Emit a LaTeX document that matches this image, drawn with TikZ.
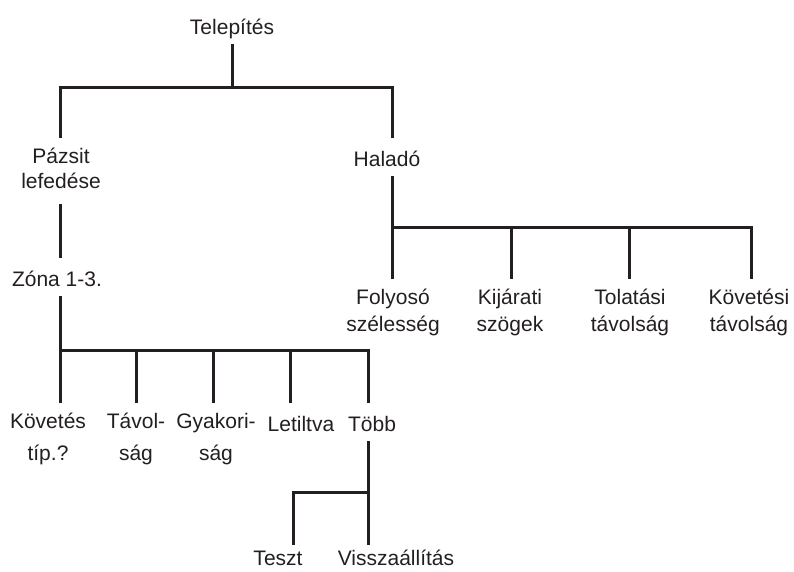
\documentclass[tikz,border=0pt]{standalone}
\usepackage{fontspec}
\setmainfont{Liberation Sans}
\definecolor{tinta}{HTML}{231F20}

\begin{document}
\begin{tikzpicture}[
    x=1pt, y=-1pt,
    cimke/.style={font=\fontsize{21}{25}\selectfont, text=tinta, align=center,
                  anchor=north, inner sep=0pt,
                  execute at begin node={\rule{0pt}{18pt}},
                  execute at end node={\rule[-5pt]{0pt}{5pt}}},
    vonal/.style={draw=tinta, line width=3pt},
    le/.style={vonal, shorten >=10pt},
    ki/.style={vonal, shorten <=5pt},
    ag/.style={vonal, shorten <=10pt, shorten >=10pt}
  ]
  \useasboundingbox (0,0) rectangle (794,571);

  % csomopontok
  \node[cimke] (tel) at (232,16) {Telepítés};
  \node[cimke] (pazsit) at (61,148) {Pázsit\\lefedése};
  \node[cimke] (halado) at (387,148) {Haladó};
  \node[cimke] (zona) at (57,268) {Zóna 1-3.};

  \node[cimke] (kovetes) at (48,413) {Követés\\[7pt]típ.?};
  \node[cimke] (tavolsag) at (136,413) {Távol-\\[7pt]ság};
  \node[cimke] (gyakorisag) at (216,413) {Gyakori-\\[7pt]ság};
  \node[cimke] (letiltva) at (301,413) {Letiltva};
  \node[cimke] (tobb) at (372,413) {Több};

  \node[cimke, execute at end node={}] (teszt) at (278,547) {Teszt};
  \node[cimke, execute at end node={}] (vissza) at (396,547) {Visszaállítás};

  \node[cimke] (folyoso) at (393,289) {Folyosó\\[2pt]szélesség};
  \node[cimke] (kijarati) at (510,289) {Kijárati\\[2pt]szögek};
  \node[cimke] (tolatasi) at (630,289) {Tolatási\\[2pt]távolság};
  \node[cimke] (kovetesi) at (749,289) {Követési\\[2pt]távolság};

  % elagazasok
  \coordinate (b0l) at (60,87);
  \coordinate (b0r) at (392,87);
  \coordinate (b1l) at (392,227);
  \coordinate (b1r) at (751,227);
  \coordinate (b2l) at (60,350);
  \coordinate (b2r) at (368,350);
  \coordinate (b3l) at (293,492);
  \coordinate (b3r) at (368,492);

  \draw[ki] (tel) -- (tel |- b0l);
  \draw[ag] (b0l |- pazsit.north) -- (b0l) -- (b0r) -- (b0r |- halado.north);

  \draw[ag] (pazsit.south -| b0l) -- (b0l |- zona.north);

  \draw[ki] (zona.south -| b2l) -- (b2l);
  \draw[ag] (b2l |- kovetes.north) -- (b2l) -- (b2r) -- (b2r |- tobb.north);
  \foreach \x/\n in {136/tavolsag, 213/gyakorisag, 290/letiltva}
    \draw[le] (\x,350) -- (\x,350 |- \n.north);

  \draw[ki] (halado.south -| b1l) -- (b1l);
  \draw[ag] (b1l |- folyoso.north) -- (b1l) -- (b1r) -- (b1r |- kovetesi.north);
  \foreach \x/\n in {511/kijarati, 629/tolatasi}
    \draw[le] (\x,227) -- (\x,227 |- \n.north);

  \draw[ki, shorten >=2pt] (tobb.south -| b3r) -- (b3r |- vissza.north);
  \draw[vonal, shorten <=2pt] (b3l |- teszt.north) -- (b3l) -- (b3r);
\end{tikzpicture}
\end{document}
